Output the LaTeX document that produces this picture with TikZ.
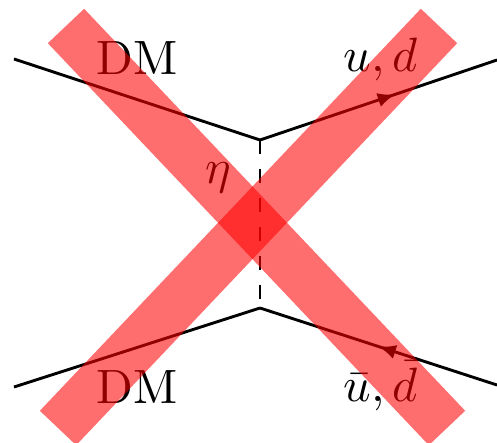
\documentclass[tikz,border=0pt]{standalone}
\usepackage{amsmath}
\usepackage{tikz}
\usetikzlibrary{arrows.meta,decorations.markings}
\definecolor{CrossRed}{RGB}{255,0,0}
\tikzset{
  leg/.style={line width=0.6pt},
  quark/.style={leg,postaction={decorate},
    decoration={markings,mark=at position #1 with {\arrow{Latex[length=3.6pt,width=3pt]}}}},
  scalar/.style={leg,dashed},
  cross/.style={CrossRed,opacity=0.57,line width=0.365cm,line cap=butt}
}

\begin{document}
\begin{tikzpicture}[x=0.0073cm,y=-0.0073cm,>=Latex]
  \useasboundingbox (0,0) rectangle (497,442);
  \coordinate (i1) at (14,59);
  \coordinate (i2) at (14,387);
  \coordinate (vt) at (260,140);
  \coordinate (vb) at (260,308);
  \coordinate (f1) at (497,60);
  \coordinate (f2) at (497,385);
  \draw[leg] (i1)--(vt);
  \draw[leg] (i2)--(vb);
  \draw[quark=0.57] (vt)--(f1);
  \draw[quark=0.5] (f2)--(vb);
  \draw[scalar] (vt)--(vb);
  \node[anchor=base] (dmtop) at (137,75) {DM};
  \node[anchor=base] (dmbot) at (137,403) {DM};
  \node[anchor=base] (qout) at (381,72) {$u,d$};
  \node[anchor=base] (qin) at (381,401) {$\bar{u},\bar{d}$};
  \node[anchor=base] (eta) at (218,183) {$\eta$};
  % big cross over everything
  \draw[cross] (66,26)--(447,428);
  \draw[cross] (439,26)--(58,428);
\end{tikzpicture}
\end{document}
